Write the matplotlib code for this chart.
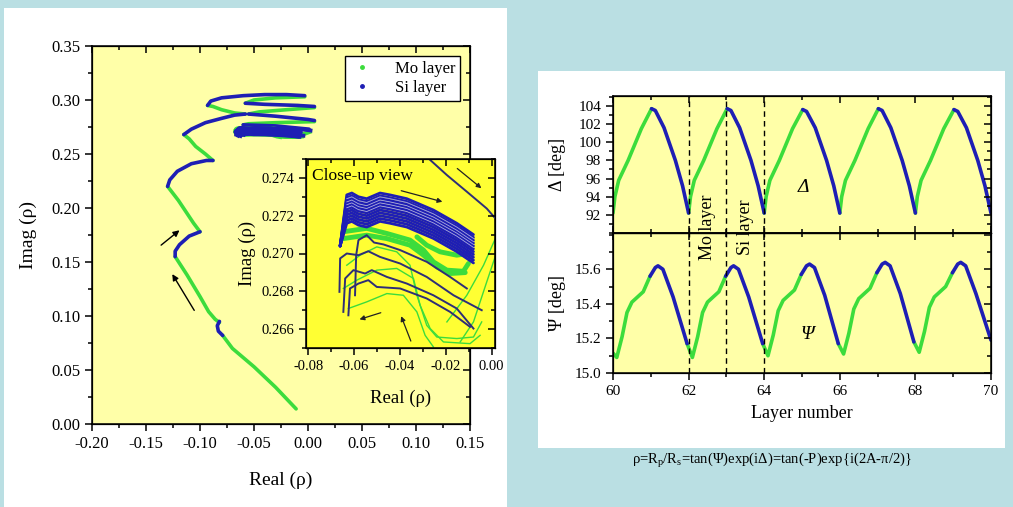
import matplotlib
matplotlib.use('Agg')
import matplotlib.pyplot as plt
from matplotlib.patches import Rectangle
from matplotlib.lines import Line2D
from matplotlib.ticker import MultipleLocator, FormatStrFormatter, FixedLocator

plt.rcParams['font.family'] = ['Liberation Serif', 'DejaVu Serif']
plt.rcParams['mathtext.fontset'] = 'custom'
plt.rcParams['mathtext.rm'] = 'Liberation Serif'
plt.rcParams['mathtext.it'] = 'Liberation Serif:italic'
plt.rcParams['axes.unicode_minus'] = False

GREEN = '#3CDC3C'
BLUE = '#1E1EB4'
NAVY = '#2E2E78'
BG = '#BADFE3'
PALE = '#FFFFA8'
BRIGHT = '#FFFF33'

# ---------------- main trajectory (Real, Imag) ----------------
traj_layer = ['Mo', 'Si', 'Mo', 'Si', 'Mo', 'Si', 'Mo', 'Si', 'Mo', 'Si',
              'Mo', 'Si', 'Mo', 'Si', 'Mo', 'Si']
traj_x = [
    [-0.011, -0.030, -0.050, -0.070, -0.079],
    [-0.079, -0.083, -0.084, -0.082],
    [-0.082, -0.086, -0.092, -0.100, -0.112, -0.123],
    [-0.123, -0.123, -0.119, -0.110, -0.100],
    [-0.100, -0.106, -0.112, -0.120, -0.130],
    [-0.130, -0.128, -0.121, -0.108, -0.094, -0.088],
    [-0.088, -0.095, -0.104, -0.110, -0.115],
    [-0.115, -0.108, -0.095, -0.080, -0.068, -0.058],
    [-0.058, -0.068, -0.080, -0.088, -0.093],
    [-0.093, -0.090, -0.080, -0.060, -0.040, -0.020, -0.003],
    [-0.003, -0.030, -0.050, -0.058],
    [-0.058, -0.040, -0.010, 0.006],
    [0.006, -0.020, -0.045, -0.055],
    [-0.055, -0.030, 0.000, 0.006],
    [0.006, -0.030, -0.055, -0.060],
    [-0.060, -0.030, 0.001],
]
traj_y = [
    [0.014, 0.034, 0.053, 0.070, 0.082],
    [0.082, 0.086, 0.091, 0.095],
    [0.094, 0.097, 0.104, 0.118, 0.138, 0.155],
    [0.155, 0.160, 0.166, 0.174, 0.178],
    [0.178, 0.186, 0.195, 0.207, 0.220],
    [0.220, 0.226, 0.234, 0.241, 0.244, 0.244],
    [0.244, 0.250, 0.257, 0.264, 0.268],
    [0.268, 0.273, 0.279, 0.283, 0.286, 0.287],
    [0.287, 0.288, 0.291, 0.294, 0.295],
    [0.295, 0.299, 0.302, 0.304, 0.305, 0.305, 0.304],
    [0.303, 0.302, 0.300, 0.297],
    [0.297, 0.296, 0.295, 0.294],
    [0.293, 0.291, 0.289, 0.287],
    [0.287, 0.285, 0.282, 0.281],
    [0.280, 0.279, 0.278, 0.277],
    [0.277, 0.276, 0.273],
]

# ---------------- close-up (converging loops) ----------------
bundle_top_x = [-0.0661, -0.0632, -0.0610, -0.0581, -0.0545, -0.0487, -0.0443,
                -0.0370, -0.0254, -0.0152, -0.0079]
bundle_top_y = [0.2704, 0.2731, 0.2732, 0.2730, 0.2729, 0.2732, 0.2731,
                0.2729, 0.2723, 0.2716, 0.2710]
bundle_offsets = [0.0, 0.00015, 0.0003, 0.00045, 0.0006, 0.00075, 0.0009,
                  0.00105, 0.0012, 0.00135, 0.0015]
strand_offsets = [0.0002, 0.00037, 0.00052, 0.00068]

green_band_x = [
    [-0.0647, -0.0545, -0.0457, -0.0356, -0.0297, -0.0254, -0.0195, -0.0123, -0.0101],
    [-0.0647, -0.0545, -0.0457, -0.0356, -0.0297, -0.0239, -0.0181, -0.0115],
    [-0.0326, -0.0283, -0.0225, -0.0152, -0.0101],
]
green_band_y = [
    [0.27115, 0.27133, 0.27106, 0.27071, 0.27018, 0.26956, 0.26912, 0.26906, 0.26947],
    [0.27079, 0.27097, 0.27079, 0.27044, 0.26991, 0.26929, 0.26894, 0.26899],
    [0.27088, 0.27044, 0.27009, 0.26991, 0.27000],
]

navy_x = [
    [-0.0596, -0.0591, -0.0581, -0.0545, -0.0513, -0.0472, -0.0399, -0.0283, -0.0181, -0.0108],
    [-0.0664, -0.0661, -0.0632, -0.0581, -0.0538, -0.0487, -0.0399, -0.0283, -0.0166, -0.0043],
    [-0.0647, -0.0639, -0.0603, -0.0552, -0.0523, -0.0457, -0.0370, -0.0254, -0.0152, -0.0079],
    [-0.0625, -0.0618, -0.0581, -0.0538, -0.0501, -0.0399, -0.0283, -0.0181, -0.0094],
    [-0.0268, -0.0195, -0.0108, -0.0021, 0.0023],
]
navy_y = [
    [0.26779, 0.26991, 0.27071, 0.27097, 0.27058, 0.27048, 0.27018, 0.26956, 0.26876, 0.26815],
    [0.26797, 0.26974, 0.27000, 0.26991, 0.27012, 0.26982, 0.26947, 0.26876, 0.26779, 0.26700],
    [0.26691, 0.26868, 0.26912, 0.26894, 0.26912, 0.26876, 0.26841, 0.26779, 0.26709, 0.26603],
    [0.26673, 0.26815, 0.26841, 0.26859, 0.26823, 0.26815, 0.26762, 0.26691, 0.26612],
    [0.27495, 0.27415, 0.27327, 0.27238, 0.27177],
]

thin_green_x = [
    [-0.0632, -0.0574, -0.0501, -0.0414, -0.0356, -0.0326, -0.0283, -0.0239, -0.0152, -0.0079, -0.0043],
    [-0.0647, -0.0588, -0.0501, -0.0414, -0.0341, -0.0312, -0.0268, -0.0210, -0.0094, -0.0050],
    [-0.0625, -0.0545, -0.0457, -0.0385, -0.0326, -0.0290, -0.0254],
    [-0.0137, -0.0079, -0.0021, 0.0023],
    [-0.0195, -0.0108, -0.0035, 0.0023],
]
thin_green_y = [
    [0.26938, 0.26991, 0.27035, 0.27009, 0.26938, 0.26779, 0.26620, 0.26558, 0.26550, 0.26558, 0.26638],
    [0.26815, 0.26859, 0.26912, 0.26921, 0.26868, 0.26726, 0.26603, 0.26532, 0.26523, 0.26567],
    [0.26709, 0.26744, 0.26788, 0.26779, 0.26691, 0.26567, 0.26506],
    [0.26532, 0.26638, 0.26850, 0.27009],
    [0.26638, 0.26779, 0.26938, 0.27097],
]

# ---------------- Delta / Psi vs layer number ----------------
delta_mo_x = [[60.00, 60.05, 60.15, 60.40, 60.75, 61.02],
              [62.00, 62.05, 62.15, 62.40, 62.75, 63.02],
              [64.00, 64.05, 64.15, 64.40, 64.75, 65.02],
              [66.00, 66.05, 66.15, 66.40, 66.75, 67.02],
              [68.00, 68.05, 68.15, 68.40, 68.75, 69.02]]
delta_mo_y = [[92.2, 94.0, 95.8, 98.0, 101.5, 103.7],
              [92.2, 94.0, 95.8, 98.0, 101.5, 103.7],
              [92.2, 94.0, 95.8, 98.0, 101.5, 103.6],
              [92.2, 94.0, 95.8, 98.0, 101.5, 103.7],
              [92.2, 94.0, 95.8, 98.0, 101.5, 103.6]]
delta_si_x = [[61.02, 61.12, 61.35, 61.65, 61.84, 62.00],
              [63.02, 63.12, 63.35, 63.65, 63.84, 64.00],
              [65.02, 65.12, 65.35, 65.65, 65.84, 66.00],
              [67.02, 67.12, 67.35, 67.65, 67.84, 68.00],
              [69.02, 69.12, 69.35, 69.65, 69.84, 70.00]]
delta_si_y = [[103.7, 103.5, 101.6, 98.0, 95.2, 92.2],
              [103.7, 103.5, 101.6, 98.0, 95.2, 92.2],
              [103.6, 103.4, 101.6, 98.0, 95.2, 92.2],
              [103.7, 103.5, 101.6, 98.0, 95.2, 92.2],
              [103.6, 103.4, 101.6, 98.0, 95.2, 92.2]]

psi_mo_x = [[60.00, 60.10, 60.24, 60.37, 60.50, 60.80, 60.98],
            [61.96, 62.10, 62.24, 62.37, 62.50, 62.80, 62.98],
            [63.96, 64.10, 64.24, 64.37, 64.50, 64.80, 64.98],
            [65.96, 66.10, 66.24, 66.37, 66.50, 66.80, 66.98],
            [67.96, 68.10, 68.24, 68.37, 68.50, 68.80, 68.98]]
psi_mo_y = [[15.115, 15.09, 15.21, 15.35, 15.41, 15.47, 15.56],
            [15.17, 15.09, 15.21, 15.35, 15.41, 15.47, 15.56],
            [15.17, 15.10, 15.22, 15.36, 15.42, 15.48, 15.57],
            [15.17, 15.11, 15.23, 15.37, 15.43, 15.49, 15.58],
            [15.18, 15.12, 15.24, 15.38, 15.44, 15.50, 15.58]]
psi_si_x = [[60.98, 61.12, 61.19, 61.32, 61.59, 61.96],
            [62.98, 63.12, 63.19, 63.32, 63.59, 63.96],
            [64.98, 65.12, 65.20, 65.33, 65.60, 65.96],
            [66.98, 67.12, 67.20, 67.33, 67.60, 67.96],
            [68.98, 69.12, 69.20, 69.33, 69.60, 70.00]]
psi_si_y = [[15.56, 15.61, 15.62, 15.60, 15.44, 15.17],
            [15.56, 15.61, 15.62, 15.60, 15.44, 15.17],
            [15.57, 15.62, 15.63, 15.61, 15.45, 15.17],
            [15.58, 15.63, 15.64, 15.62, 15.46, 15.18],
            [15.58, 15.63, 15.64, 15.62, 15.46, 15.19]]

layer_boundaries = [62, 63, 64]
delta_ticks = [92, 94, 96, 98, 100, 102, 104]
psi_ticks = [15.0, 15.2, 15.4, 15.6]

# ---------------- figure ----------------
fig = plt.figure(figsize=(10.13, 5.07), dpi=100)
fig.patch.set_facecolor(BG)
fig.patches.append(Rectangle((4 / 1013, 0), 503 / 1013, 499 / 507,
                             transform=fig.transFigure, facecolor='white',
                             edgecolor='none', zorder=-10))
fig.patches.append(Rectangle((538 / 1013, 59 / 507), 467 / 1013, 377 / 507,
                             transform=fig.transFigure, facecolor='white',
                             edgecolor='none', zorder=-10))

MAJ_LEN, MIN_LEN = 5.0, 2.8


def style_ticks(ax, xmaj, xmin, ymaj, ymin, fs, bottom_dir='out',
                left_dir='out', labelbottom=True):
    ax.xaxis.set_major_locator(MultipleLocator(xmaj))
    ax.xaxis.set_minor_locator(MultipleLocator(xmin))
    ax.yaxis.set_major_locator(MultipleLocator(ymaj))
    ax.yaxis.set_minor_locator(MultipleLocator(ymin))
    ax.tick_params(axis='x', which='both', direction=bottom_dir, top=False,
                   labelsize=fs, labelbottom=labelbottom)
    ax.tick_params(axis='y', which='both', direction=left_dir, right=False,
                   labelsize=fs)
    ax.tick_params(which='major', length=MAJ_LEN, width=1.1)
    ax.tick_params(which='minor', length=MIN_LEN, width=1.1)
    for s in ax.spines.values():
        s.set_linewidth(1.1)


def mirror_ticks(ax, xmaj, xmin, ymaj, ymin):
    # inward ticks on the right and top sides
    ty = ax.twinx()
    ty.set_ylim(ax.get_ylim())
    ty.yaxis.set_major_locator(MultipleLocator(ymaj))
    ty.yaxis.set_minor_locator(MultipleLocator(ymin))
    ty.tick_params(axis='y', which='major', direction='in', labelright=False,
                   length=MAJ_LEN, width=1.1, color='black')
    ty.tick_params(axis='y', which='minor', direction='in', length=MIN_LEN,
                   width=1.1, color='black')
    tx = ax.twiny()
    tx.set_xlim(ax.get_xlim())
    tx.xaxis.set_major_locator(MultipleLocator(xmaj))
    tx.xaxis.set_minor_locator(MultipleLocator(xmin))
    tx.tick_params(axis='x', which='major', direction='in', labeltop=False,
                   length=MAJ_LEN, width=1.1, color='black')
    tx.tick_params(axis='x', which='minor', direction='in', length=MIN_LEN,
                   width=1.1, color='black')


def draw_closeup(ax, scale, navy_color):
    for cx, cy in zip(thin_green_x, thin_green_y):
        ax.plot(cx, cy, color=GREEN, lw=1.0 * scale, zorder=2)
    for cx, cy in zip(green_band_x, green_band_y):
        ax.plot(cx, cy, color=GREEN, lw=3.5 * scale, zorder=3,
                solid_capstyle='round')
    for cx, cy in zip(navy_x, navy_y):
        ax.plot(cx, cy, color=navy_color, lw=1.4 * scale, zorder=4)
    for d in bundle_offsets:
        yy = [bundle_top_y[0]] + [v - d for v in bundle_top_y[1:]]
        ax.plot(bundle_top_x, yy, color=BLUE, lw=2.0 * scale, zorder=5,
                solid_capstyle='round')
    if navy_color == NAVY:
        for d in strand_offsets:
            yy = [v - d for v in bundle_top_y[1:]]
            ax.plot(bundle_top_x[1:], yy, color='#A8A8E0', lw=0.6, zorder=6)


# ---- main axes ----
ax = fig.add_axes([92 / 1013, 83 / 507, 378 / 1013, 378 / 507])
ax.set_facecolor(PALE)
ax.set_xlim(-0.20, 0.15)
ax.set_ylim(0.0, 0.35)
style_ticks(ax, 0.05, 0.025, 0.05, 0.025, 12)
ax.xaxis.set_major_formatter(FormatStrFormatter('%.2f'))
ax.yaxis.set_major_formatter(FormatStrFormatter('%.2f'))
for lay, sx_, sy_ in zip(traj_layer, traj_x, traj_y):
    ax.plot(sx_, sy_, color=GREEN if lay == 'Mo' else BLUE, lw=2.6,
            solid_capstyle='round', zorder=3 if lay == 'Si' else 2)
draw_closeup(ax, 2.0, BLUE)
ax.set_xlabel('Real (ρ)', fontsize=14, labelpad=14)
ax.set_ylabel('Imag (ρ)', fontsize=14, labelpad=10)
ax.annotate('', xy=(-0.117, 0.181), xytext=(-0.138, 0.164),
            arrowprops=dict(arrowstyle='-|>', color='black', lw=1,
                            mutation_scale=9), zorder=6)
ax.annotate('', xy=(-0.127, 0.141), xytext=(-0.104, 0.103),
            arrowprops=dict(arrowstyle='-|>', color='black', lw=1,
                            mutation_scale=9), zorder=6)
mirror_ticks(ax, 0.05, 0.025, 0.05, 0.025)
# legend on the topmost twin so it is not covered by the mirrored ticks
handles = [Line2D([], [], ls='', marker='.', ms=5, color=GREEN),
           Line2D([], [], ls='', marker='.', ms=5, color=BLUE)]
leg = fig.axes[-1].legend(handles, ['Mo layer', 'Si layer'], loc='upper right',
                          bbox_to_anchor=(0.974, 0.974), borderaxespad=0,
                          fontsize=12, fancybox=False, edgecolor='black',
                          framealpha=1, handletextpad=1.2, borderpad=0.3,
                          labelspacing=0.2, handlelength=1.5)
leg.get_frame().set_linewidth(1.0)

# ---- inset ----
axi = fig.add_axes([306 / 1013, 159 / 507, 189 / 1013, 189 / 507])
axi.set_facecolor(BRIGHT)
axi.set_xlim(-0.081, 0.0015)
axi.set_ylim(0.265, 0.275)
style_ticks(axi, 0.02, 0.01, 0.002, 0.001, 10.5)
axi.xaxis.set_major_formatter(FormatStrFormatter('%.2f'))
axi.yaxis.set_major_formatter(FormatStrFormatter('%.3f'))
draw_closeup(axi, 1.0, NAVY)
axi.set_xlabel('Real (ρ)', fontsize=13.5, labelpad=12)
axi.set_ylabel('Imag (ρ)', fontsize=13.5, labelpad=4)
axi.text(0.03, 0.95, 'Close-up view', transform=axi.transAxes, fontsize=12.5,
         va='top', ha='left', zorder=8)
for head, tail in [((-0.0203, 0.27270), (-0.0406, 0.27336)),
                   ((-0.0035, 0.27336), (-0.0159, 0.27459)),
                   ((-0.0588, 0.26647), (-0.0472, 0.26691)),
                   ((-0.0399, 0.26682), (-0.0348, 0.26523))]:
    axi.annotate('', xy=head, xytext=tail,
                 arrowprops=dict(arrowstyle='-|>', color='#222222', lw=0.9,
                                 mutation_scale=7), zorder=8)
mirror_ticks(axi, 0.02, 0.01, 0.002, 0.001)

# ---- right panels ----
axd = fig.add_axes([613 / 1013, 274 / 507, 378 / 1013, 137 / 507])
axp = fig.add_axes([613 / 1013, 134 / 507, 378 / 1013, 140 / 507])
for a in (axd, axp):
    a.set_facecolor(PALE)
    a.set_xlim(60, 70)
axd.set_ylim(90.0, 105.1)
axp.set_ylim(15.0, 15.81)
style_ticks(axd, 2, 1, 2, 1, 11, bottom_dir='in', labelbottom=False)
style_ticks(axp, 2, 1, 0.2, 0.1, 11)
axd.yaxis.set_major_locator(FixedLocator(delta_ticks))
axp.yaxis.set_major_locator(FixedLocator(psi_ticks))
axp.yaxis.set_major_formatter(FormatStrFormatter('%.1f'))
axd.yaxis.set_major_formatter(FormatStrFormatter('%d'))
axp.xaxis.set_major_formatter(FormatStrFormatter('%d'))

for xs, ys in zip(delta_mo_x, delta_mo_y):
    axd.plot(xs, ys, color=GREEN, lw=2.6, solid_capstyle='round')
for xs, ys in zip(delta_si_x, delta_si_y):
    axd.plot(xs, ys, color=BLUE, lw=2.6, solid_capstyle='round')
for xs, ys in zip(psi_mo_x, psi_mo_y):
    axp.plot(xs, ys, color=GREEN, lw=2.6, solid_capstyle='round')
for xs, ys in zip(psi_si_x, psi_si_y):
    axp.plot(xs, ys, color=BLUE, lw=2.6, solid_capstyle='round')
for xb in layer_boundaries:
    axd.axvline(xb, color='black', ls=(0, (4, 3)), lw=1)
    axp.axvline(xb, color='black', ls=(0, (4, 3)), lw=1)

axd.set_ylabel('Δ [deg]', fontsize=13)
axp.set_ylabel('Ψ [deg]', fontsize=13)
axp.set_xlabel('Layer number', fontsize=13, labelpad=5)
axd.text(65.05, 95.0, 'Δ', fontsize=14, style='italic', ha='center', va='center')
axp.text(65.15, 15.22, 'Ψ', fontsize=14, style='italic', ha='center', va='center')
axd.yaxis.set_label_coords(-0.125, 0.5)
axp.yaxis.set_label_coords(-0.125, 0.5)
mirror_ticks(axd, 2, 1, 2, 1)
mirror_ticks(axp, 2, 1, 0.2, 0.1)

fig.text(707.5 / 1013, 280 / 507, 'Mo layer', rotation=90, fontsize=13,
         ha='center', va='center')
fig.text(745.3 / 1013, 280 / 507, 'Si layer', rotation=90, fontsize=13,
         ha='center', va='center')

fig.text(772 / 1013, (507 - 460) / 507,
         r'ρ=R$_\mathrm{p}$/R$_\mathrm{s}$=tan(Ψ)exp(iΔ)=tan(-P)exp{i(2A-π/2)}',
         fontsize=10.5, ha='center', va='center')

fig.savefig('out.png', dpi=100, facecolor=fig.get_facecolor())
